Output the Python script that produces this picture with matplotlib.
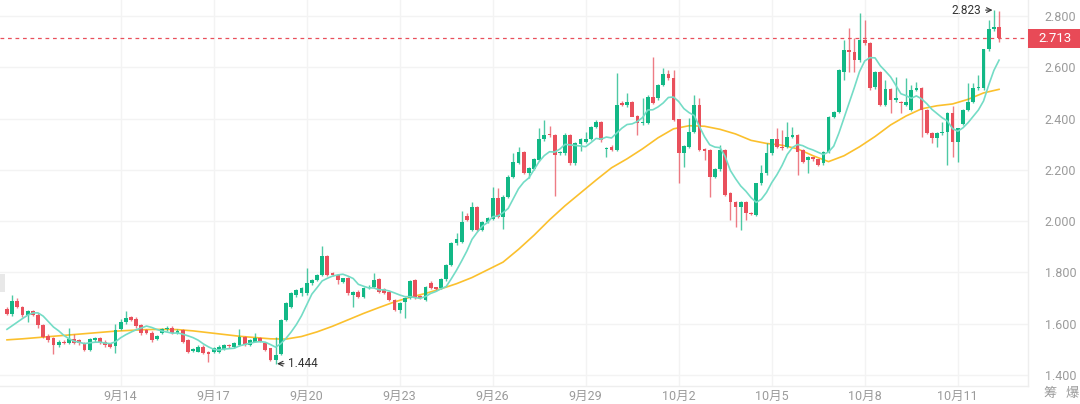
import matplotlib
matplotlib.use('Agg')
import matplotlib.pyplot as plt
import matplotlib.transforms as mtransforms
from matplotlib.patches import Rectangle
import pandas as pd

# 4h candles, 9月10 08:00 -> 10月12 08:00
opens = [
    1.657, 1.637, 1.687, 1.667, 1.633, 1.648, 1.633, 1.593, 1.552, 1.545,
    1.516, 1.530, 1.523, 1.542, 1.535, 1.525, 1.498, 1.535, 1.545, 1.530,
    1.520, 1.513, 1.578, 1.607, 1.627, 1.617, 1.593, 1.574, 1.563, 1.540,
    1.565, 1.578, 1.585, 1.562, 1.575, 1.536, 1.495, 1.491, 1.510, 1.490,
    1.488, 1.490, 1.500, 1.517, 1.510, 1.517, 1.549, 1.517, 1.530, 1.543,
    1.523, 1.504, 1.458, 1.480, 1.614, 1.666, 1.712, 1.718, 1.718, 1.757,
    1.770, 1.790, 1.864, 1.796, 1.790, 1.764, 1.777, 1.712, 1.725, 1.705,
    1.738, 1.744, 1.773, 1.734, 1.725, 1.692, 1.653, 1.686, 1.699, 1.770,
    1.708, 1.692, 1.760, 1.742, 1.738, 1.773, 1.829, 1.913, 1.920, 2.020,
    1.965, 2.054, 1.965, 1.998, 2.007, 2.089, 2.017, 2.095, 2.173, 2.228,
    2.268, 2.189, 2.202, 2.238, 2.319, 2.339, 2.336, 2.264, 2.264, 2.336,
    2.226, 2.301, 2.310, 2.320, 2.366, 2.388, 2.280, 2.290, 2.277, 2.459,
    2.453, 2.466, 2.410, 2.382, 2.382, 2.485, 2.479, 2.531, 2.574, 2.557,
    2.397, 2.264, 2.290, 2.349, 2.453, 2.280, 2.277, 2.173, 2.202, 2.277,
    2.108, 2.076, 2.054, 2.076, 2.033, 2.024, 2.147, 2.186, 2.264, 2.319,
    2.290, 2.290, 2.329, 2.336, 2.277, 2.238, 2.249, 2.241, 2.226, 2.271,
    2.407, 2.427, 2.583, 2.667, 2.661, 2.628, 2.706, 2.694, 2.522, 2.583,
    2.453, 2.514, 2.472, 2.466, 2.453, 2.433, 2.511, 2.518, 2.433, 2.345,
    2.323, 2.342, 2.349, 2.423, 2.310, 2.380, 2.433, 2.466, 2.518, 2.518,
    2.670, 2.748, 2.758,
]
highs = [
    1.664, 1.711, 1.700, 1.670, 1.655, 1.655, 1.640, 1.600, 1.560, 1.550,
    1.535, 1.535, 1.585, 1.560, 1.540, 1.530, 1.545, 1.550, 1.550, 1.535,
    1.525, 1.600, 1.617, 1.650, 1.630, 1.625, 1.600, 1.580, 1.570, 1.555,
    1.585, 1.590, 1.592, 1.580, 1.580, 1.540, 1.505, 1.515, 1.515, 1.495,
    1.508, 1.515, 1.522, 1.520, 1.527, 1.580, 1.552, 1.540, 1.562, 1.548,
    1.528, 1.506, 1.549, 1.620, 1.685, 1.722, 1.735, 1.742, 1.816, 1.775,
    1.795, 1.903, 1.868, 1.800, 1.793, 1.780, 1.782, 1.728, 1.730, 1.742,
    1.750, 1.796, 1.778, 1.738, 1.728, 1.695, 1.686, 1.703, 1.772, 1.775,
    1.712, 1.746, 1.765, 1.745, 1.778, 1.833, 1.917, 1.952, 2.041, 2.030,
    2.076, 2.060, 2.002, 2.015, 2.134, 2.128, 2.100, 2.178, 2.264, 2.290,
    2.272, 2.210, 2.245, 2.362, 2.394, 2.370, 2.340, 2.275, 2.345, 2.340,
    2.307, 2.323, 2.349, 2.370, 2.394, 2.392, 2.290, 2.295, 2.576, 2.470,
    2.498, 2.470, 2.415, 2.479, 2.490, 2.641, 2.535, 2.596, 2.590, 2.589,
    2.400, 2.297, 2.401, 2.492, 2.479, 2.285, 2.280, 2.206, 2.297, 2.280,
    2.112, 2.080, 2.079, 2.080, 2.037, 2.150, 2.219, 2.303, 2.322, 2.362,
    2.355, 2.388, 2.368, 2.340, 2.280, 2.253, 2.252, 2.244, 2.274, 2.410,
    2.430, 2.592, 2.706, 2.752, 2.713, 2.810, 2.784, 2.698, 2.586, 2.586,
    2.550, 2.518, 2.563, 2.470, 2.557, 2.531, 2.544, 2.522, 2.436, 2.348,
    2.347, 2.388, 2.426, 2.450, 2.365, 2.436, 2.537, 2.540, 2.570, 2.673,
    2.784, 2.823, 2.820,
]
lows = [
    1.633, 1.630, 1.660, 1.628, 1.605, 1.630, 1.585, 1.545, 1.530, 1.482,
    1.510, 1.520, 1.520, 1.520, 1.515, 1.495, 1.495, 1.528, 1.520, 1.510,
    1.505, 1.485, 1.575, 1.600, 1.610, 1.585, 1.555, 1.558, 1.530, 1.535,
    1.560, 1.572, 1.558, 1.558, 1.526, 1.485, 1.490, 1.488, 1.480, 1.452,
    1.485, 1.487, 1.497, 1.505, 1.507, 1.512, 1.514, 1.514, 1.527, 1.527,
    1.494, 1.455, 1.444, 1.476, 1.610, 1.660, 1.705, 1.708, 1.710, 1.752,
    1.765, 1.785, 1.786, 1.786, 1.755, 1.760, 1.712, 1.664, 1.700, 1.700,
    1.734, 1.740, 1.720, 1.714, 1.688, 1.648, 1.640, 1.621, 1.695, 1.695,
    1.695, 1.688, 1.734, 1.729, 1.734, 1.768, 1.825, 1.908, 1.915, 2.000,
    1.960, 1.960, 1.960, 1.994, 2.003, 2.012, 1.970, 2.090, 2.168, 2.224,
    2.185, 2.167, 2.198, 2.234, 2.314, 2.330, 2.098, 2.258, 2.258, 2.220,
    2.220, 2.275, 2.305, 2.315, 2.362, 2.310, 2.251, 2.272, 2.272, 2.448,
    2.446, 2.460, 2.336, 2.376, 2.378, 2.455, 2.474, 2.526, 2.552, 2.390,
    2.147, 2.212, 2.286, 2.344, 2.272, 2.240, 2.095, 2.168, 2.197, 2.098,
    2.004, 1.978, 1.965, 2.004, 2.023, 2.019, 2.142, 2.180, 2.259, 2.285,
    2.278, 2.285, 2.325, 2.180, 2.227, 2.186, 2.236, 2.214, 2.220, 2.266,
    2.402, 2.422, 2.550, 2.583, 2.583, 2.622, 2.688, 2.513, 2.517, 2.448,
    2.448, 2.420, 2.466, 2.420, 2.448, 2.428, 2.506, 2.329, 2.338, 2.303,
    2.290, 2.337, 2.219, 2.251, 2.232, 2.376, 2.428, 2.461, 2.513, 2.513,
    2.665, 2.743, 2.700,
]
closes = [
    1.637, 1.687, 1.664, 1.633, 1.648, 1.633, 1.593, 1.550, 1.536, 1.516,
    1.530, 1.523, 1.540, 1.525, 1.523, 1.498, 1.540, 1.545, 1.525, 1.516,
    1.509, 1.574, 1.607, 1.624, 1.615, 1.590, 1.563, 1.563, 1.536, 1.552,
    1.580, 1.585, 1.562, 1.570, 1.530, 1.491, 1.502, 1.510, 1.484, 1.480,
    1.504, 1.510, 1.517, 1.512, 1.523, 1.549, 1.517, 1.536, 1.543, 1.530,
    1.497, 1.458, 1.478, 1.614, 1.679, 1.718, 1.731, 1.738, 1.757, 1.770,
    1.790, 1.864, 1.790, 1.790, 1.770, 1.777, 1.718, 1.725, 1.705, 1.738,
    1.744, 1.770, 1.725, 1.718, 1.692, 1.653, 1.682, 1.699, 1.768, 1.699,
    1.699, 1.742, 1.738, 1.734, 1.773, 1.829, 1.913, 1.930, 1.998, 2.006,
    2.054, 1.965, 1.998, 2.011, 2.089, 2.017, 2.095, 2.173, 2.232, 2.268,
    2.189, 2.206, 2.241, 2.319, 2.336, 2.336, 2.258, 2.271, 2.336, 2.226,
    2.303, 2.319, 2.320, 2.366, 2.388, 2.316, 2.284, 2.277, 2.453, 2.453,
    2.466, 2.407, 2.382, 2.388, 2.485, 2.459, 2.531, 2.574, 2.557, 2.394,
    2.264, 2.293, 2.349, 2.453, 2.277, 2.275, 2.173, 2.202, 2.277, 2.102,
    2.076, 2.054, 2.076, 2.030, 2.028, 2.147, 2.186, 2.264, 2.319, 2.290,
    2.284, 2.329, 2.336, 2.271, 2.232, 2.249, 2.241, 2.219, 2.271, 2.407,
    2.427, 2.589, 2.667, 2.661, 2.628, 2.706, 2.694, 2.518, 2.583, 2.453,
    2.514, 2.472, 2.479, 2.459, 2.466, 2.511, 2.518, 2.433, 2.342, 2.323,
    2.345, 2.349, 2.423, 2.310, 2.362, 2.433, 2.466, 2.518, 2.522, 2.670,
    2.748, 2.758, 2.713,
]

# short MA values at the first six candles (history before the window)
ma_short_head = [1.578, 1.592, 1.606, 1.620, 1.633, 1.642]
# long MA read every 3 candles (twice per day)
ma_long = [
    1.537, 1.541, 1.546, 1.551, 1.556, 1.561, 1.566, 1.571, 1.574, 1.577,
    1.578, 1.577, 1.572, 1.565, 1.558, 1.551, 1.546, 1.541, 1.540, 1.550,
    1.568, 1.590, 1.615, 1.640, 1.663, 1.685, 1.703, 1.718, 1.736, 1.756,
    1.780, 1.810, 1.840, 1.890, 1.945, 2.005, 2.060, 2.110, 2.160, 2.208,
    2.243, 2.282, 2.325, 2.360, 2.372, 2.370, 2.358, 2.340, 2.315, 2.303,
    2.296, 2.282, 2.255, 2.232, 2.255, 2.290, 2.330, 2.375, 2.410, 2.438,
    2.450, 2.457, 2.475, 2.500, 2.514,
]

tick_pos = [22, 40, 58, 76, 94, 112, 130, 148, 166, 184]
tick_labels = ['9月14', '9月17', '9月20', '9月23', '9月26', '9月29',
               '10月2', '10月5', '10月8', '10月11']
price_ticks = [1.4, 1.6, 1.8, 2.0, 2.2, 2.4, 2.6, 2.8]
last_price = 2.713
high_idx, high_val = 191, 2.823
low_idx, low_val = 52, 1.444

GREEN = '#12b886'
RED = '#e9505c'
TEAL = '#74dcc6'
ORANGE = '#fbc02d'
GRID = '#f3f3f3'
LABEL = '#9b9b9b'

plt.rcParams['font.family'] = ['Roboto', 'Noto Sans CJK SC', 'DejaVu Sans']

fig = plt.figure(figsize=(10.8, 4.04), dpi=100)
ax = fig.add_axes([0, 18 / 404, 1028 / 1080, 386 / 404])

n = len(closes)
xs = list(range(n))

# grid
for p in price_ticks:
    ax.axhline(p, color=GRID, lw=1, zorder=0)
for t in tick_pos:
    ax.axvline(t, color=GRID, lw=1, zorder=0)

# long MA (under candles)
ax.plot(xs[::3], ma_long, color=ORANGE, lw=1.2, zorder=1)

# candles
for i in xs:
    o, h, l, c = opens[i], highs[i], lows[i], closes[i]
    col = GREEN if c >= o else RED
    ax.vlines(i, l, h, color=col, lw=1, alpha=0.75, zorder=2)
    body = max(abs(c - o), 0.003)
    ax.bar(i, body, bottom=min(o, c), width=0.72, color=col, lw=0, zorder=3)

# short MA
ma_short = ma_short_head + list(pd.Series(closes).rolling(7).mean()[6:])
ax.plot(xs, ma_short, color=TEAL, lw=1.2, zorder=4)

# current price line
ax.axhline(last_price, color=RED, lw=0.9, ls=(0, (3, 3)), zorder=5)

# high / low markers
ax.annotate(f'{high_val:.3f}', xy=(high_idx, high_val), xytext=(-9, 0),
            textcoords='offset points', ha='right', va='center', fontsize=8.5,
            color='#333333',
            arrowprops=dict(arrowstyle='->', color='#333333', lw=0.8,
                            shrinkA=1, shrinkB=1))
ax.annotate(f'{low_val:.3f}', xy=(low_idx, low_val), xytext=(9, 0),
            textcoords='offset points', ha='left', va='center', fontsize=8.5,
            color='#333333',
            arrowprops=dict(arrowstyle='->', color='#333333', lw=0.8,
                            shrinkA=1, shrinkB=1))

ax.set_xlim(-1.35, 197.6)
ax.set_ylim(1.357, 2.8624)

ax.set_xticks(tick_pos)
ax.set_xticklabels(tick_labels)
ax.set_yticks(price_ticks)
ax.set_yticklabels([f'{p:.3f}' for p in price_ticks])
ax.yaxis.tick_right()
ax.tick_params(axis='both', length=0, labelsize=9, colors=LABEL)
ax.tick_params(axis='y', pad=12)
ax.tick_params(axis='x', pad=3)

for s in ['top', 'left']:
    ax.spines[s].set_visible(False)
for s in ['right', 'bottom']:
    ax.spines[s].set_color('#eeeeee')
    ax.spines[s].set_linewidth(1)

# last price tag on the right
tr = mtransforms.blended_transform_factory(fig.transFigure, ax.transData)
fig.patches.append(Rectangle((1028 / 1080, last_price - 0.036), 52 / 1080, 0.072,
                             transform=tr, facecolor='#e84a57', edgecolor='none'))
fig.text(1055 / 1080, last_price, f'{last_price:.3f}', transform=tr,
         ha='center', va='center', color='white', fontsize=9.5)

# small gray tab on left edge
fig.patches.append(Rectangle((0, (404 - 292) / 404), 5 / 1080, 18 / 404,
                             transform=fig.transFigure, facecolor='#e8e8e8',
                             edgecolor='none'))

fig.text(1050 / 1080, (404 - 393) / 404, '筹', ha='center', va='center',
         fontsize=9.5, color=LABEL, family=['Noto Sans CJK SC'])
fig.text(1072 / 1080, (404 - 393) / 404, '爆', ha='center', va='center',
         fontsize=9.5, color=LABEL, family=['Noto Sans CJK SC'])

fig.savefig('out.png', dpi=100, facecolor='white')
